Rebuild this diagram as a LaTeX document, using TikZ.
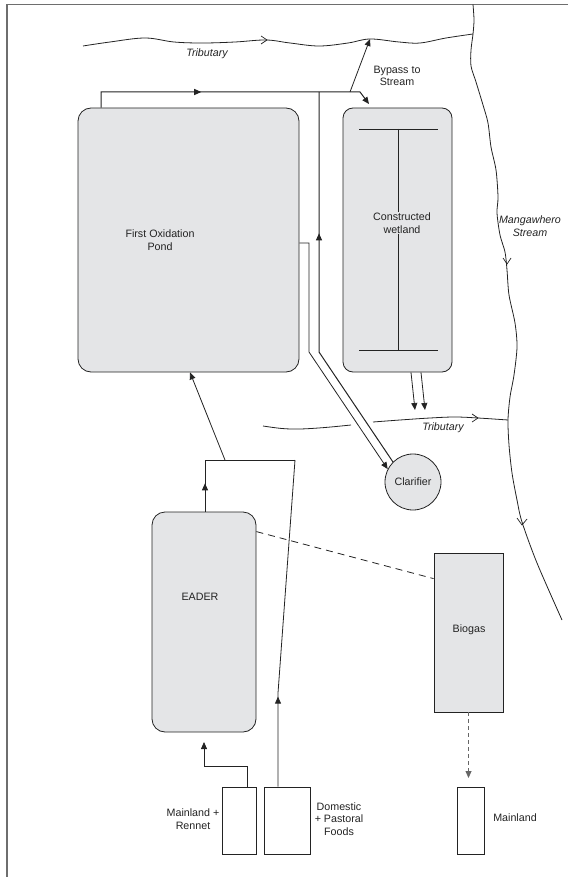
\documentclass[tikz,border=0pt]{standalone}
\usepackage{fontspec}
\setmainfont{Liberation Sans}
\usetikzlibrary{arrows.meta,decorations.markings}
\definecolor{tankgray}{RGB}{228,229,231}
\definecolor{ink}{RGB}{35,35,35}
\definecolor{framegray}{RGB}{110,110,110}
\begin{document}
\begin{tikzpicture}[x=1pt,y=-1pt,
  every node/.style={font=\fontsize{10.7}{12.5}\selectfont, text=ink, align=center, inner sep=0pt},
  tank/.style={draw=ink, fill=tankgray, rounded corners=13pt, line width=0.8pt},
  gbox/.style={draw=ink, fill=tankgray, line width=0.8pt},
  wbox/.style={draw=ink, fill=white, line width=0.8pt},
  pipe/.style={draw=ink, line width=0.8pt},
  tip/.style={-{Triangle[width=6pt,length=7pt]}},
  midarrow/.style={postaction={decorate}, decoration={markings, mark=at position #1 with {\arrow{Triangle[width=6pt,length=7pt]}}}},
  chev/.style={draw=ink, line width=0.7pt},
  river/.style={draw=ink, line width=0.8pt},
  lbl/.style={font=\fontsize{10.7}{12.5}\selectfont\itshape}
]
\useasboundingbox (0,0) rectangle (568,877);
% frame
\draw[framegray, line width=1.3pt] (568,4.5) -- (7,4.5) -- (7,877);

% tanks and boxes
\node[tank, minimum width=221pt, minimum height=264pt] (pond) at (188.5,240) {};
\node (pondtxt) at (160,240) {First Oxidation\\Pond};
\node[tank, rounded corners=10pt, minimum width=109pt, minimum height=264pt] (wet) at (397.5,240) {};
\draw[pipe] (359,129) -- (438,129);
\draw[pipe] (359,350) -- (438,350);
\draw[pipe] (398,129) -- (398,350);
\node[fill=tankgray, inner sep=1pt] (wettxt) at (402,223) {Constructed\\wetland};
\node[tank, minimum width=104pt, minimum height=220pt] (ead) at (204,622) {};
\node (eadtxt) at (200,597) {EADER};
\node[gbox, minimum width=69pt, minimum height=159pt] (bio) at (468.5,632.5) {};
\node (biotxt) at (469,630) {Biogas};
\node[circle, draw=ink, fill=tankgray, line width=0.8pt, minimum size=56pt] (clar) at (413,482) {Clarifier};
\node[wbox, minimum width=34pt, minimum height=67pt] (rn) at (239,820.5) {};
\node[wbox, minimum width=46pt, minimum height=67pt] (dom) at (287,820.5) {};
\node[wbox, minimum width=27pt, minimum height=67pt] (mld) at (470.5,820.5) {};
\node (rntxt) at (193,819) {Mainland +\\Rennet};
\node (domtxt) at (339,819) {Domestic\\+ Pastoral\\Foods};
\node (mldtxt) at (515,818) {Mainland};
\node[lbl] (trib1) at (207,54) {Tributary};
\node[lbl] (trib2) at (443,428) {Tributary};
\node (bypass) at (397,76) {Bypass to\\Stream};
\node[lbl] (streamtxt) at (530,226) {Mangawhero\\Stream};

% rivers
\draw[river] plot[smooth, tension=0.6] coordinates {(83,46) (110,42) (145,38) (174,42) (203,43) (235,42) (266,40) (290,43) (319,46) (348,43) (370,39) (399,42) (420,43) (446,38) (473,34)};
\draw[chev] (261,36) -- (267,40) -- (261,44);
\draw[river] plot[smooth, tension=0.6] coordinates {(263,426) (282,428.5) (300,429) (325,427.5) (351,425)};
\draw[river] plot[smooth, tension=0.6] coordinates {(373,422) (400,420) (430,418) (455,417) (478,418) (508,420)};
\draw[chev] (472,414) -- (478,418) -- (472,422);
\draw[river] plot[smooth, tension=0.5] coordinates {(473,4.5) (474,20) (473,34) (471,50) (471,66) (476,82) (483,105) (488,123) (491,147) (496,170) (498,197) (497,213) (500,235) (505,252) (507,270) (509,295) (515,323) (517,347) (514,375) (510,397) (508,420) (509,445) (512,473) (517,500) (522,522) (537,563) (562,620)};
\draw[chev] (503,258) -- (507,264) -- (511,258);
\draw[chev] (517,518) -- (522,525) -- (527,519);

% coordinates for pipe bends
\coordinate (tpA) at (101,92);
\coordinate (tpB) at (360,92);
\coordinate (wetIn) at (369,104);
\coordinate (bpS) at (350,92);
\coordinate (bpE) at (370,39);
\coordinate (rsB) at (319,352);
\coordinate (rsT) at (319,92);
\coordinate (poA) at (309,243);
\coordinate (poB) at (309,352);
\coordinate (wo1) at (415,410);
\coordinate (wo2) at (425,410);
\coordinate (jL) at (205,460);
\coordinate (jR) at (295,460);
\coordinate (jM) at (225,460);
\coordinate (dmK) at (278,693);
\coordinate (rnK1) at (247,766);
\coordinate (rnK2) at (204,766);
\coordinate (rnE) at (204,742);
\coordinate (bioE) at (468.5,778);

% pipes
\draw[pipe, line width=1pt, tip, midarrow=0.4] (pond.north -| tpA) -- (tpA) -- (tpB) -- (wetIn);
\draw[pipe, tip] (bpS) -- (bpE);
\draw[pipe, line width=1pt, midarrow=0.64] (clar.135) -- (rsB) -- (rsT);
\draw[pipe, tip] ([yshift=-3pt]pond.east) -- (poA) -- (poB) -- (clar.153);
\draw[pipe, tip] ([xshift=13.5pt]wet.south) -- (wo1);
\draw[pipe, tip] ([xshift=23.5pt]wet.south) -- (wo2);
\draw[pipe, midarrow=0.2] ([xshift=1pt]ead.north) -- (jL) -- (jR);
\draw[pipe, tip] (jM) -- ([xshift=1.5pt]pond.south);
\draw[pipe, midarrow=0.275] ([xshift=-9pt]dom.north) -- (dmK) -- (jR);
\draw[pipe, tip] ([xshift=8pt]rn.north) -- (rnK1) -- (rnK2) -- (rnE);
\draw[pipe, dash pattern=on 7pt off 5pt] ([yshift=-20pt]ead.north east) -- ([yshift=-26pt]bio.north west);
\draw[pipe, draw=black!60, dash pattern=on 4pt off 3pt, tip] (bio.south) -- (bioE);
\end{tikzpicture}
\end{document}
